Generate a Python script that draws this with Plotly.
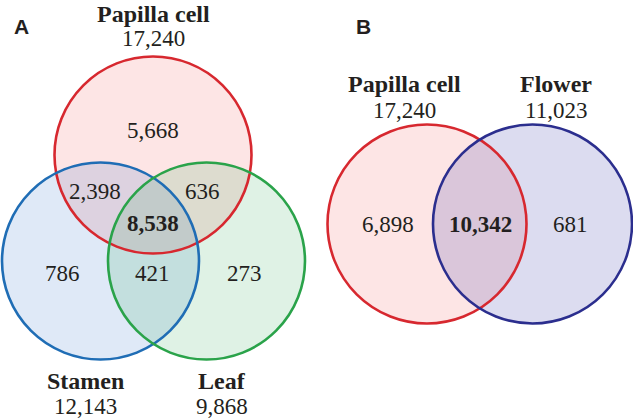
import plotly.graph_objects as go

# ---------------- data ----------------
panel_labels = ["A", "B"]

sets_a = ["Papilla cell", "Stamen", "Leaf"]
totals_a = [17240, 12143, 9868]
region_keys_a = ["P", "PS", "PL", "PSL", "S", "SL", "L"]
region_vals_a = [5668, 2398, 636, 8538, 786, 421, 273]

sets_b = ["Papilla cell", "Flower"]
totals_b = [17240, 11023]
region_keys_b = ["P", "PF", "F"]
region_vals_b = [6898, 10342, 681]

# ---------------- layout geometry (pixels) ----------------
W, H = 633, 418
SERIF = "Liberation Serif, Times New Roman, serif"
SANS = "Liberation Sans, Arial, sans-serif"
FS = 23
FS_NAME = 24
TXT = "#231f20"

# circles: (cx, cy, r, line colour, fill colour)
circles_a = [
    (153, 155, 98.5, "#d7282f", "rgba(240,80,80,0.15)"),
    (100.5, 261, 98.5, "#1f6db5", "rgba(30,100,200,0.14)"),
    (206.5, 261, 98.5, "#2aa34a", "rgba(40,170,80,0.15)"),
]
circles_b = [
    (427, 224, 99.5, "#d7282f", "rgba(240,80,80,0.15)"),
    (532.5, 224, 99.5, "#2b2e8e", "rgba(40,40,160,0.16)"),
]

# (x, y of name, y of total)
set_label_pos_a = [(153, 13.5, 38.5), (85, 381, 406), (222, 381, 406)]
set_label_pos_b = [(404, 84, 110), (556, 84, 110)]

region_pos_a = {"P": (153, 130), "PS": (95, 191), "PL": (202, 191),
                "PSL": (153, 223), "S": (62, 273), "SL": (152, 273), "L": (244, 273)}
region_pos_b = {"P": (388, 224), "PF": (480, 224), "F": (570, 224)}
bold_regions = {"A": "PSL", "B": "PF"}

panel_label_pos = [(21, 26), (363, 26)]

fig = go.Figure()
shapes = []
for circles in (circles_a, circles_b):
    for cx, cy, r, lc, fc in circles:
        shapes.append(dict(type="circle", xref="x", yref="y", x0=cx - r, x1=cx + r,
                           y0=cy - r, y1=cy + r, fillcolor=fc, line=dict(width=0),
                           layer="below"))
for circles in (circles_a, circles_b):
    for cx, cy, r, lc, fc in circles:
        shapes.append(dict(type="circle", xref="x", yref="y", x0=cx - r, x1=cx + r,
                           y0=cy - r, y1=cy + r, fillcolor="rgba(0,0,0,0)",
                           line=dict(color=lc, width=2.6), layer="above"))

ann = []


def add_text(x, y, text, bold=False, family=SERIF, size=FS):
    t = f"<b>{text}</b>" if bold else text
    ann.append(dict(x=x, y=y, xref="x", yref="y", text=t, showarrow=False,
                    xanchor="center", yanchor="middle", borderpad=0,
                    font=dict(family=family, size=size, color=TXT)))


for lab, (x, y) in zip(panel_labels, panel_label_pos):
    add_text(x, y, lab, bold=True, family=SANS, size=21)

for name, tot, (x, yn, yt) in zip(sets_a, totals_a, set_label_pos_a):
    add_text(x, yn, name, bold=True, size=FS_NAME)
    add_text(x, yt, f"{tot:,}")
for name, tot, (x, yn, yt) in zip(sets_b, totals_b, set_label_pos_b):
    add_text(x, yn, name, bold=True, size=FS_NAME)
    add_text(x, yt, f"{tot:,}")

for k, v in zip(region_keys_a, region_vals_a):
    x, y = region_pos_a[k]
    add_text(x, y, f"{v:,}", bold=(k == bold_regions["A"]))
for k, v in zip(region_keys_b, region_vals_b):
    x, y = region_pos_b[k]
    add_text(x, y, f"{v:,}", bold=(k == bold_regions["B"]))

fig.update_layout(
    width=W, height=H, margin=dict(l=0, r=0, t=0, b=0),
    paper_bgcolor="white", plot_bgcolor="white",
    xaxis=dict(range=[0, W], visible=False, fixedrange=True),
    yaxis=dict(range=[H, 0], visible=False, fixedrange=True),
    shapes=shapes, annotations=ann, showlegend=False,
)
fig.write_html(
    "out.html",
    config={"displayModeBar": False},
    post_script=["document.body.style.margin='0px';document.body.style.overflow='hidden';"],
)
